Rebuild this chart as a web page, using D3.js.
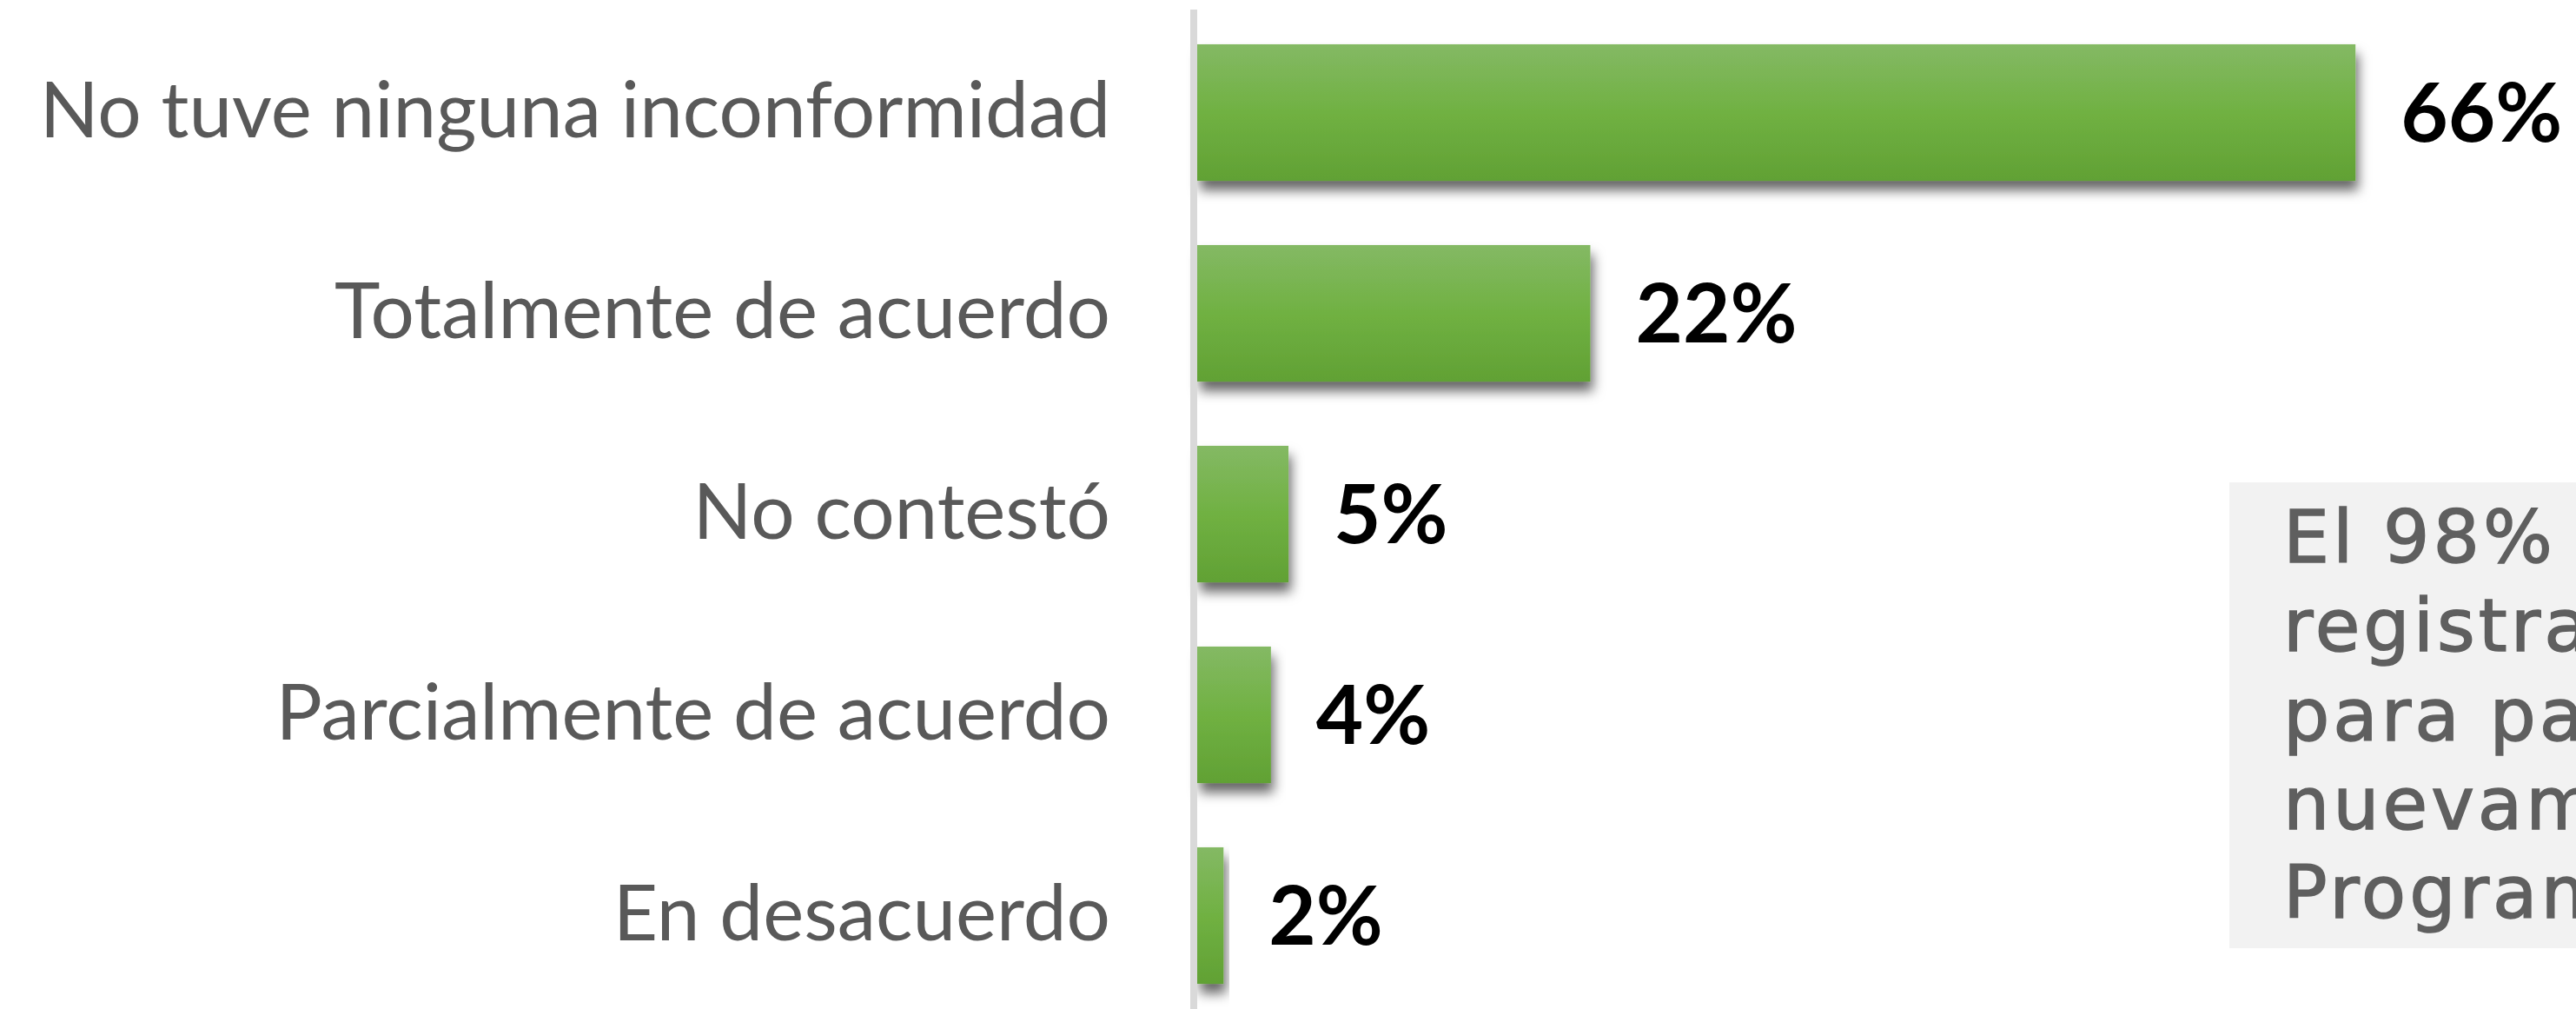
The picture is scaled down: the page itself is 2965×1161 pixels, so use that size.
<!DOCTYPE html>
<html>
  <head>
    <meta charset="utf-8">
    <title>Inconformidad</title>
    <style type="text/css">
        body{
            margin: 0;
            background: #ffffff;
            overflow: hidden;
        }
        .cat-axis text{
            font-family: Lato, "Open Sans", sans-serif;
            font-size: 89px;
            fill: #595959;
        }
        .cat-axis .domain{
            stroke: #d9d9d9;
            stroke-width: 8px;
        }
        .value{
            font-family: Lato, sans-serif;
            font-weight: 700;
            font-size: 94px;
            fill: #000000;
        }
        .note{
            font-family: "DejaVu Sans", sans-serif;
            font-size: 84px;
            letter-spacing: 4px;
            fill: #5f5f5f;
            stroke: #5f5f5f;
            stroke-width: 1.5px;
        }
    </style>
  </head>
  <body>
    <div id="chart"></div>

    <script src="https://cdn.jsdelivr.net/npm/d3@7"></script>
    <script>
        var width = 2965, height = 1161;

        //  chart data
        var categories = ["No tuve ninguna inconformidad", "Totalmente de acuerdo", "No contestó",
                          "Parcialmente de acuerdo", "En desacuerdo"];
        var values = [66.0, 22.4, 5.2, 4.2, 1.5];
        var noteLines = ["El 98% de los encuestados", "registraría nuevamente", "para participar",
                         "nuevamente en el", "Programa"];

        var svg = d3.select("#chart").append("svg")
            .attr("width", width)
            .attr("height", height);

        var defs = svg.append("defs");

        //  bar fill, lighter at the top
        var grad = defs.append("linearGradient")
            .attr("id", "barFill")
            .attr("x1", 0).attr("y1", 0).attr("x2", 0).attr("y2", 1);
        grad.append("stop").attr("offset", "0%").attr("stop-color", "#84b964");
        grad.append("stop").attr("offset", "50%").attr("stop-color", "#70b142");
        grad.append("stop").attr("offset", "100%").attr("stop-color", "#61a134");

        //  soft shadow under each bar
        var shadow = defs.append("filter")
            .attr("id", "barShadow")
            .attr("x", "-20%").attr("y", "-40%")
            .attr("width", "140%").attr("height", "180%");
        shadow.append("feDropShadow")
            .attr("dx", 3).attr("dy", 11)
            .attr("stdDeviation", 7)
            .attr("flood-color", "#000000")
            .attr("flood-opacity", 0.6);

        var axisX = 1374;

        var x = d3.scaleLinear()
            .domain([0, 100])
            .range([axisX + 4, axisX + 4 + 2020]);

        var y = d3.scaleBand()
            .domain(categories)
            .range([14, 1169])
            .paddingInner(0.32)
            .paddingOuter(0.16);

        //  note box on the right (runs off the edge like the original)
        svg.append("rect")
            .attr("x", 2566).attr("y", 555)
            .attr("width", 600).attr("height", 536)
            .attr("fill", "#f2f2f2");

        svg.append("g")
            .selectAll("text")
            .data(noteLines)
            .enter().append("text")
                .attr("class", "note")
                .attr("x", 2628)
                .attr("y", (d, i) => 647 + i * 102.3)
                .text(d => d);

        //  bars
        svg.append("g")
            .selectAll("rect")
            .data(values)
            .enter().append("rect")
                .attr("x", x(0))
                .attr("y", (d, i) => y(categories[i]))
                .attr("width", d => x(d) - x(0))
                .attr("height", y.bandwidth())
                .attr("fill", "url(#barFill)")
                .attr("filter", "url(#barShadow)");

        //  value labels
        svg.append("g")
            .selectAll("text")
            .data(values)
            .enter().append("text")
                .attr("class", "value")
                .attr("x", d => x(d) + 52)
                .attr("y", (d, i) => y(categories[i]) + y.bandwidth() / 2)
                .attr("dy", "0.36em")
                .text(d => Math.round(d) + "%");

        //  category axis with the grey line
        svg.append("g")
            .attr("class", "cat-axis")
            .attr("transform", "translate(" + axisX + ",0)")
            .call(d3.axisLeft(y).tickSize(0).tickPadding(96).tickSizeOuter(0));

        svg.select(".cat-axis .domain").attr("d", "M0,11V" + height);
    </script>
  </body>
</html>
